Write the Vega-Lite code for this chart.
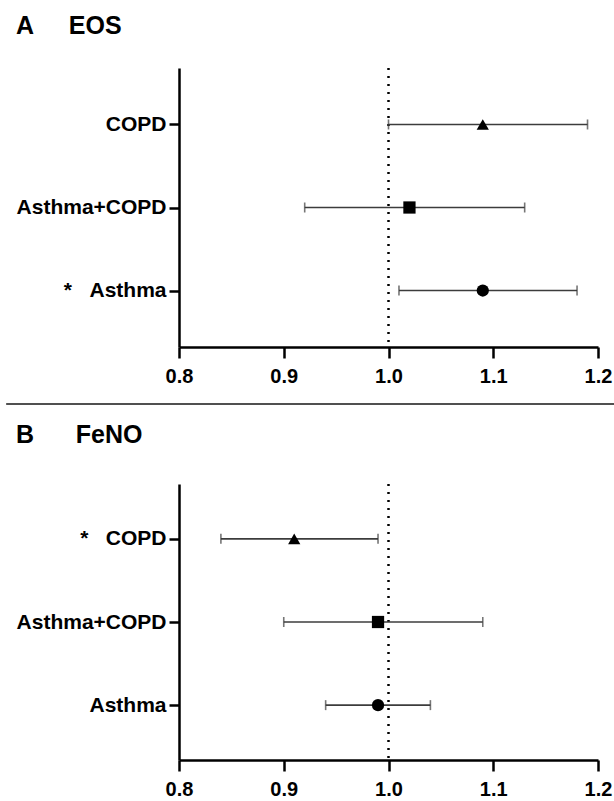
{
  "$schema": "https://vega.github.io/schema/vega-lite/v6.json",
  "background": "white",
  "autosize": {"type": "pad"},
  "padding": {"left": 5, "top": 13, "right": 0, "bottom": 0},
  "datasets": {
    "eos": [
      {"group": "COPD", "or": 1.09, "lo": 1.00, "hi": 1.19},
      {"group": "Asthma+COPD", "or": 1.02, "lo": 0.92, "hi": 1.13},
      {"group": "Asthma", "or": 1.09, "lo": 1.01, "hi": 1.18}
    ],
    "feno": [
      {"group": "COPD", "or": 0.91, "lo": 0.84, "hi": 0.99},
      {"group": "Asthma+COPD", "or": 0.99, "lo": 0.90, "hi": 1.09},
      {"group": "Asthma", "or": 0.99, "lo": 0.94, "hi": 1.04}
    ],
    "reference": [{"ref": 1.0}],
    "separator": [{"line": 0}]
  },
  "spacing": 16,
  "vconcat": [
    {
      "title": {"text": "A\u00a0\u00a0\u00a0\u00a0\u00a0EOS", "dx": 10, "offset": 28},
      "width": 419,
      "height": 279,
      "layer": [
        {
          "data": {"name": "reference"},
          "mark": {"type": "rule", "color": "black", "strokeWidth": 2.5, "strokeDash": [2, 6]},
          "encoding": {
            "x": {"field": "ref", "type": "quantitative", "scale": {"domain": [0.8, 1.2], "nice": false, "zero": false},
                  "axis": {"values": [0.8, 0.9, 1.0, 1.1, 1.2], "format": ".1f", "title": null, "labelFlush": false}}
          }
        },
        {
          "data": {"name": "eos"},
          "mark": {"type": "rule", "color": "#3c3c3c", "strokeWidth": 1.6},
          "encoding": {
            "x": {"field": "lo", "type": "quantitative"},
            "x2": {"field": "hi"},
            "y": {"field": "group", "type": "nominal", "sort": ["COPD", "Asthma+COPD", "Asthma"], "scale": {"type": "point", "padding": 0.68},
                  "axis": {"title": null, "minExtent": 173, "labelExpr": "datum.value === 'Asthma' ? '*\u00a0\u00a0\u00a0Asthma' : datum.value"}}
          }
        },
        {
          "data": {"name": "eos"},
          "mark": {"type": "tick", "color": "#3c3c3c", "thickness": 1.6, "size": 10},
          "encoding": {
            "x": {"field": "lo", "type": "quantitative"},
            "y": {"field": "group", "type": "nominal", "sort": ["COPD", "Asthma+COPD", "Asthma"]}
          }
        },
        {
          "data": {"name": "eos"},
          "mark": {"type": "tick", "color": "#3c3c3c", "thickness": 1.6, "size": 10},
          "encoding": {
            "x": {"field": "hi", "type": "quantitative"},
            "y": {"field": "group", "type": "nominal", "sort": ["COPD", "Asthma+COPD", "Asthma"]}
          }
        },
        {
          "data": {"name": "eos"},
          "mark": {"type": "point", "filled": true, "color": "black", "opacity": 1, "size": 150},
          "encoding": {
            "x": {"field": "or", "type": "quantitative"},
            "y": {"field": "group", "type": "nominal", "sort": ["COPD", "Asthma+COPD", "Asthma"]},
            "shape": {"field": "group", "type": "nominal", "scale": {"domain": ["COPD", "Asthma+COPD", "Asthma"], "range": ["triangle-up", "square", "circle"]}, "legend": null}
          }
        }
      ]
    },
    {
      "width": 419,
      "height": 1,
      "data": {"name": "separator"},
      "mark": {"type": "rule", "color": "#505050", "strokeWidth": 2.2},
      "encoding": {
        "x": {"datum": 0.635, "type": "quantitative", "scale": {"domain": [0.8, 1.2], "nice": false, "zero": false}, "axis": null},
        "x2": {"datum": 1.216},
        "y": {"field": "line", "type": "quantitative", "scale": {"domain": [0, 1]}, "axis": null}
      }
    },
    {
      "title": {"text": "B\u00a0\u00a0\u00a0\u00a0\u00a0\u00a0FeNO", "dx": 10, "offset": 35},
      "width": 419,
      "height": 276,
      "layer": [
        {
          "data": {"name": "reference"},
          "mark": {"type": "rule", "color": "black", "strokeWidth": 2.5, "strokeDash": [2, 6]},
          "encoding": {
            "x": {"field": "ref", "type": "quantitative", "scale": {"domain": [0.8, 1.2], "nice": false, "zero": false},
                  "axis": {"values": [0.8, 0.9, 1.0, 1.1, 1.2], "format": ".1f", "title": null, "labelFlush": false}}
          }
        },
        {
          "data": {"name": "feno"},
          "mark": {"type": "rule", "color": "#3c3c3c", "strokeWidth": 1.6},
          "encoding": {
            "x": {"field": "lo", "type": "quantitative"},
            "x2": {"field": "hi"},
            "y": {"field": "group", "type": "nominal", "sort": ["COPD", "Asthma+COPD", "Asthma"], "scale": {"type": "point", "padding": 0.66},
                  "axis": {"title": null, "minExtent": 173, "labelExpr": "datum.value === 'COPD' ? '*\u00a0\u00a0\u00a0COPD' : datum.value"}}
          }
        },
        {
          "data": {"name": "feno"},
          "mark": {"type": "tick", "color": "#3c3c3c", "thickness": 1.6, "size": 10},
          "encoding": {
            "x": {"field": "lo", "type": "quantitative"},
            "y": {"field": "group", "type": "nominal", "sort": ["COPD", "Asthma+COPD", "Asthma"]}
          }
        },
        {
          "data": {"name": "feno"},
          "mark": {"type": "tick", "color": "#3c3c3c", "thickness": 1.6, "size": 10},
          "encoding": {
            "x": {"field": "hi", "type": "quantitative"},
            "y": {"field": "group", "type": "nominal", "sort": ["COPD", "Asthma+COPD", "Asthma"]}
          }
        },
        {
          "data": {"name": "feno"},
          "mark": {"type": "point", "filled": true, "color": "black", "opacity": 1, "size": 150},
          "encoding": {
            "x": {"field": "or", "type": "quantitative"},
            "y": {"field": "group", "type": "nominal", "sort": ["COPD", "Asthma+COPD", "Asthma"]},
            "shape": {"field": "group", "type": "nominal", "scale": {"domain": ["COPD", "Asthma+COPD", "Asthma"], "range": ["triangle-up", "square", "circle"]}, "legend": null}
          }
        }
      ]
    }
  ],
  "config": {
    "view": {"stroke": null},
    "font": "Liberation Sans",
    "axis": {
      "domainColor": "black", "domainWidth": 2.5,
      "tickColor": "black", "tickWidth": 2.5, "tickSize": 10,
      "labelFont": "Liberation Sans", "labelFontWeight": "bold", "labelColor": "black",
      "grid": false
    },
    "axisX": {"labelPadding": 8, "tickSize": 11, "labelFontSize": 20},
    "axisY": {"labelPadding": 3, "labelFontSize": 21},
    "title": {
      "anchor": "start", "frame": "bounds",
      "font": "Liberation Sans", "fontSize": 25, "fontWeight": "bold", "color": "black"
    }
  }
}
